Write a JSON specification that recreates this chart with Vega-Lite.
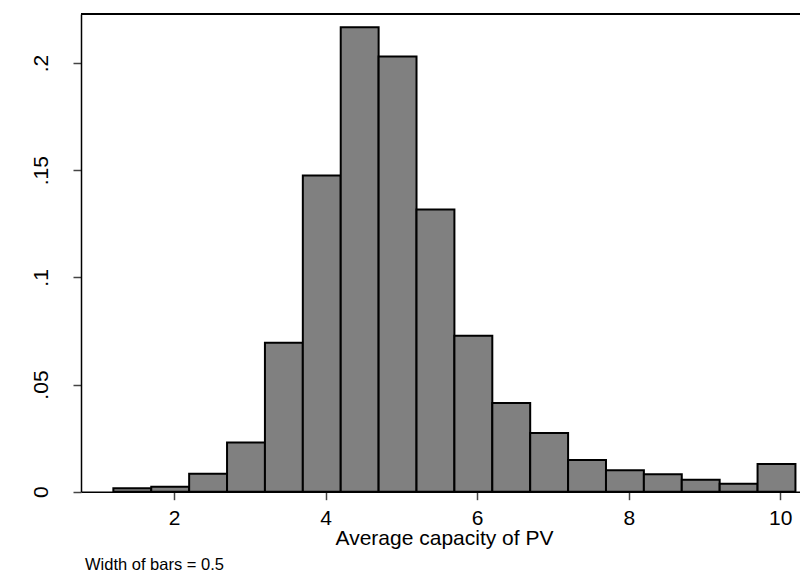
{
  "$schema": "https://vega.github.io/schema/vega-lite/v6.json",
  "autosize": {"type": "none"},
  "padding": {"left": 81, "top": 14, "right": 0, "bottom": 79.3},
  "width": 719,
  "height": 477.7,
  "background": "white",
  "config": {
    "view": {"stroke": null},
    "font": "Liberation Sans",
    "axis": {"grid": false, "labelFont": "Liberation Sans", "titleFont": "Liberation Sans", "labelColor": "black", "titleColor": "black", "domainColor": "black", "domainWidth": 1.5, "tickColor": "#444", "tickWidth": 1.5, "tickSize": 8, "labelFontSize": 21, "titleFontSize": 21, "titleFontWeight": "normal"}
  },
  "title": {"text": "Width of bars = 0.5", "orient": "bottom", "anchor": "start", "frame": "group", "fontSize": 16.5, "font": "Liberation Sans", "fontWeight": "normal", "color": "black", "dx": 4, "offset": 8},
  "data": {"values": [
    {"start": 1.2, "end": 1.7, "density": 0.0016},
    {"start": 1.7, "end": 2.2, "density": 0.0023},
    {"start": 2.2, "end": 2.7, "density": 0.0084},
    {"start": 2.7, "end": 3.2, "density": 0.0229},
    {"start": 3.2, "end": 3.7, "density": 0.0695},
    {"start": 3.7, "end": 4.2, "density": 0.1476},
    {"start": 4.2, "end": 4.7, "density": 0.2167},
    {"start": 4.7, "end": 5.2, "density": 0.2031},
    {"start": 5.2, "end": 5.7, "density": 0.1317},
    {"start": 5.7, "end": 6.2, "density": 0.0728},
    {"start": 6.2, "end": 6.7, "density": 0.0414},
    {"start": 6.7, "end": 7.2, "density": 0.0274},
    {"start": 7.2, "end": 7.7, "density": 0.0148},
    {"start": 7.7, "end": 8.2, "density": 0.0100},
    {"start": 8.2, "end": 8.7, "density": 0.0081},
    {"start": 8.7, "end": 9.2, "density": 0.0056},
    {"start": 9.2, "end": 9.7, "density": 0.0037},
    {"start": 9.7, "end": 10.2, "density": 0.0129}
  ]},
  "layer": [
    {
      "mark": {"type": "bar", "fill": "#808080", "stroke": "black", "strokeWidth": 2, "opacity": 1},
      "encoding": {
        "x": {"field": "start", "type": "quantitative",
              "scale": {"domain": [0.773, 10.26], "nice": false, "zero": false},
              "axis": {"values": [2, 4, 6, 8, 10], "title": "Average capacity of PV", "labelBaseline": "alphabetic", "labelPadding": 24.3, "titleX": 363, "titleY": 53, "titleAnchor": "middle", "titleBaseline": "alphabetic", "titleAlign": "center"}},
        "x2": {"field": "end"},
        "y": {"field": "density", "type": "quantitative",
              "scale": {"domain": [0, 0.2229], "nice": false},
              "axis": {"values": [0, 0.05, 0.1, 0.15, 0.2], "title": null, "labelAngle": -90, "labelAlign": "center", "labelBaseline": "alphabetic", "labelPadding": 26, "labelExpr": "replace(format(datum.value, '.2~f'), '0.', '.')"}},
        "y2": {"datum": 0}
      }
    },
    {
      "mark": {"type": "rule", "color": "black", "strokeWidth": 1.5},
      "encoding": {"y": {"datum": 0.2229}}
    }
  ]
}
